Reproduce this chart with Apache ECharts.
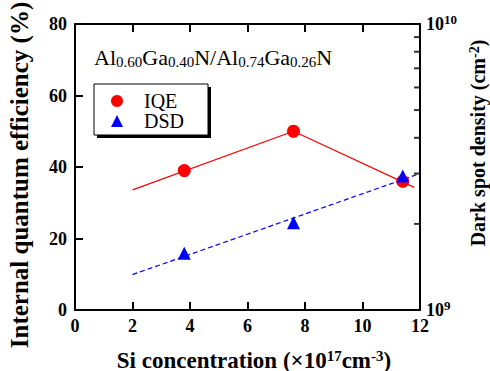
<!DOCTYPE html>
<html>
<head>
<meta charset="utf-8">
<script src="https://cdn.jsdelivr.net/npm/echarts@6/dist/echarts.min.js"></script>
<style>
  html, body { margin: 0; padding: 0; background: #fff; }
  #main { width: 490px; height: 371px; }
</style>
</head>
<body>
<div id="main"></div>
<script>
// 数据
const siConc = [3.8, 7.6, 11.4];
const iqeValues = [39, 50, 36];
const dsdValues = [1.58e9, 2.02e9, 2.94e9];
// 拟合线
const iqeFitX = [2, 7.6, 11.8];
const iqeFitY = [33.6, 50, 34.3];
const dsdFitX = [2, 12];
const dsdFitY = [1.33e9, 3.0e9];
// 右轴小刻度
const dsdMinorTicks = [2e9, 3e9, 4e9, 5e9, 6e9, 7e9, 8e9, 9e9];

const serif = "'Liberation Serif', 'DejaVu Serif', serif";
const labelStyle = { color: "#000", fontFamily: serif, fontWeight: "bold", fontSize: 18 };
const supStyle = { fontFamily: serif, fontWeight: "bold", fontSize: 13, verticalAlign: "top", padding: [0, 0, 9, 0] };

// 用svg渲染
let myChart = echarts.init(document.getElementById("main"), null, { renderer: "svg" });

const option = {
	animation: false,
	grid: { left: 75, right: 70, top: 24, bottom: 61, outerBoundsMode: "none" },
	legend: {
		orient: "vertical",
		left: 111,
		top: 91,
		padding: 0,
		itemWidth: 12,
		itemHeight: 12,
		itemGap: 0,
		textStyle: { color: "#000", fontFamily: serif, fontSize: 20, lineHeight: 20, padding: [0, 0, 0, 16] },
		data: [
			{ name: "IQE", icon: "circle" },
			{ name: "DSD", icon: "triangle" },
		],
	},
	graphic: [
		// 图例框和阴影
		{ type: "rect", z: 1, shape: { x: 97, y: 87, width: 114, height: 51 }, style: { fill: "#000" } },
		{ type: "rect", z: 2, shape: { x: 94, y: 84, width: 114, height: 51 }, style: { fill: "#fff", stroke: "#000", lineWidth: 1 } },
		{
			type: "text",
			left: 94,
			top: 46,
			z: 3,
			style: {
				text: "Al{s|0.60}Ga{s|0.40}N/Al{s|0.74}Ga{s|0.26}N",
				fill: "#000",
				font: "22px " + serif,
				rich: {
					s: { fontFamily: serif, fontSize: 15, verticalAlign: "bottom", padding: [9, 0, 0, 0] },
				},
			},
		},
	],
	xAxis: [
		{
			type: "value",
			min: 0,
			max: 12,
			interval: 2,
			position: "bottom",
			axisLine: { show: true, onZero: false, lineStyle: { color: "#000", width: 2 } },
			axisTick: { show: true, inside: true, length: 8, lineStyle: { color: "#000", width: 2 } },
			axisLabel: Object.assign({ margin: 7 }, labelStyle),
			splitLine: { show: false },
			name: "Si concentration (\u00d710{s|17}cm{s|-3})",
			nameLocation: "middle",
			nameGap: 38,
			nameTextStyle: Object.assign({}, labelStyle, { fontSize: 23, padding: [0, 0, 0, 13], rich: { s: Object.assign({}, supStyle, { fontSize: 15 }) } }),
		},
		{
			type: "value",
			min: 0,
			max: 12,
			interval: 2,
			position: "top",
			axisLine: { show: true, onZero: false, lineStyle: { color: "#000", width: 2 } },
			axisTick: { show: true, inside: true, length: 8, lineStyle: { color: "#000", width: 2 } },
			axisLabel: { show: false },
			splitLine: { show: false },
		},
	],
	yAxis: [
		{
			type: "value",
			min: 0,
			max: 80,
			interval: 20,
			position: "left",
			axisLine: { show: true, onZero: false, lineStyle: { color: "#000", width: 2 } },
			axisTick: { show: true, inside: true, length: 8, lineStyle: { color: "#000", width: 2 } },
			axisLabel: Object.assign({ margin: 8 }, labelStyle),
			splitLine: { show: false },
			name: "Internal quantum efficiency (%)",
			nameLocation: "middle",
			nameRotate: 90,
			nameGap: 43,
			nameTextStyle: Object.assign({}, labelStyle, { fontSize: 25, padding: [0, 16, 0, 0] }),
		},
		{
			type: "log",
			logBase: 10,
			min: 1e9,
			max: 1e10,
			position: "right",
			axisLine: { show: true, onZero: false, lineStyle: { color: "#000", width: 2 } },
			axisTick: { show: false },
			axisLabel: Object.assign({
				margin: 6,
				formatter: (v) => "10{s|" + Math.round(Math.log10(v)) + "}",
				rich: { s: supStyle },
			}, labelStyle),
			splitLine: { show: false },
			name: "Dark spot density (cm{s|-2})",
			nameLocation: "middle",
			nameRotate: 90,
			nameGap: 47,
			nameTextStyle: Object.assign({}, labelStyle, { fontSize: 20, padding: [0, 0, 0, 48], rich: { s: Object.assign({}, supStyle, { fontSize: 14, padding: [0, 0, 7, 0] }) } }),
		},
	],
	series: [
		{
			name: "IQE fit",
			type: "line",
			xAxisIndex: 0,
			yAxisIndex: 0,
			symbol: "none",
			silent: true,
			lineStyle: { color: "#ff0000", width: 1.2 },
			data: iqeFitX.map((x, i) => [x, iqeFitY[i]]),
			z: 2,
		},
		{
			name: "DSD fit",
			type: "line",
			xAxisIndex: 0,
			yAxisIndex: 1,
			symbol: "none",
			silent: true,
			lineStyle: { color: "#0000ff", width: 1.2, type: [5, 3] },
			data: dsdFitX.map((x, i) => [x, dsdFitY[i]]),
			z: 2,
		},
		{
			name: "IQE",
			type: "scatter",
			xAxisIndex: 0,
			yAxisIndex: 0,
			symbol: "circle",
			symbolSize: 13,
			itemStyle: { color: "#ff0000", opacity: 1 },
			data: siConc.map((x, i) => [x, iqeValues[i]]),
			z: 3,
		},
		{
			name: "DSD",
			type: "scatter",
			xAxisIndex: 0,
			yAxisIndex: 1,
			symbol: "triangle",
			symbolSize: 13,
			itemStyle: { color: "#0000ff", opacity: 1 },
			data: siConc.map((x, i) => [x, dsdValues[i]]),
			z: 4,
		},
		{
			// 右轴小刻度
			name: "minor ticks",
			type: "scatter",
			xAxisIndex: 0,
			yAxisIndex: 1,
			symbol: "rect",
			symbolSize: [6, 2],
			symbolOffset: [-3, 0],
			silent: true,
			clip: false,
			itemStyle: { color: "#000" },
			data: dsdMinorTicks.map((v) => [12, v]),
			z: 5,
		},
	],
};

myChart.setOption(option);
myChart.getZr().refreshImmediately();
</script>
</body>
</html>
